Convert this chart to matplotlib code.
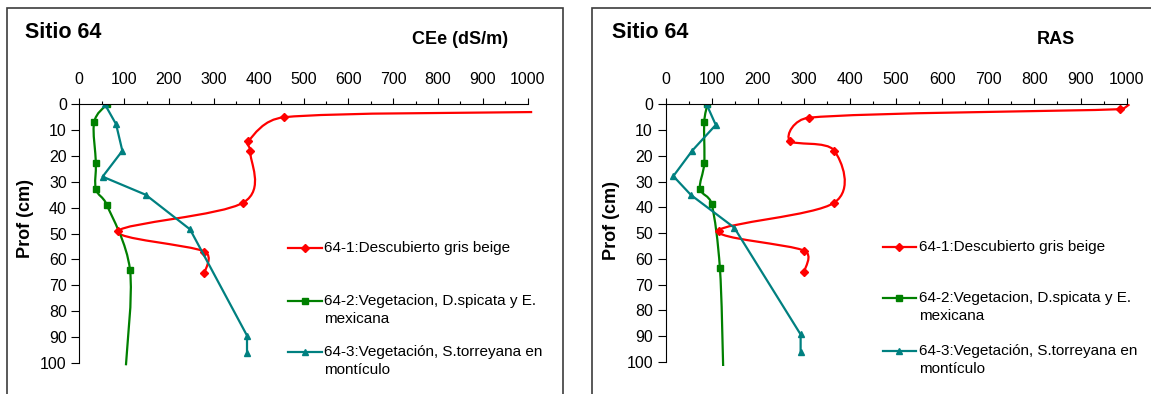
import numpy as np
import matplotlib
matplotlib.use("Agg")
import matplotlib.pyplot as plt
from matplotlib.path import Path
from matplotlib.patches import PathPatch, Rectangle
from matplotlib.lines import Line2D
from matplotlib.ticker import MultipleLocator

plt.rcParams['font.family'] = ['Liberation Sans', 'DejaVu Sans']

# Depth profiles, Sitio 64 (depth in cm)
depth_cee_1 = [3, 5, 14.2, 18, 38, 49, 57, 65.4]
cee_1 = [1010, 457, 377, 381, 366, 87, 279, 279]
depth_cee_2 = [0, 7, 22.6, 32.8, 38.8, 64, 101]
cee_2 = [61, 33, 37, 37, 61, 113, 104]
depth_cee_3 = [0, 7.7, 18, 28, 35, 48.4, 89.5, 96.4]
cee_3 = [57, 82, 96, 52, 148, 247, 374, 374]

depth_ras_1 = [0, 1.9, 5.2, 14.1, 18, 38.2, 49.1, 56.9, 65]
ras_1 = [1006, 985, 311, 269, 366, 366, 115, 301, 301]
depth_ras_2 = [0, 6.9, 22.9, 32.8, 38.7, 63.7, 101.7]
ras_2 = [91, 84, 84, 75, 100, 118, 125]
depth_ras_3 = [0, 8, 18, 27.9, 35.2, 47.9, 89.4, 96.4]
ras_3 = [89, 109, 58, 17, 55, 149, 293, 293]

labels = ['64-1:Descubierto gris beige',
          '64-2:Vegetacion, D.spicata y E.\nmexicana',
          '64-3:Vegetación, S.torreyana en\nmontículo']
x_ticks = list(range(0, 1001, 100))
y_ticks = list(range(0, 101, 10))

RED, GREEN, TEAL = '#FF0000', '#008000', '#008080'

W, H = 1151, 394
fig = plt.figure(figsize=(W / 100, H / 100), dpi=100)


def fx(px):
    return px / W


def fy(py):
    return 1 - py / H


def smooth_path(ax, xs, ys, k=0.5):
    """Bezier curve through the points, like a spreadsheet 'smoothed line'."""
    pts = ax.transData.transform(np.column_stack([xs, ys]))
    n = len(pts)
    verts = [pts[0]]
    codes = [Path.MOVETO]
    for i in range(n - 1):
        p0 = pts[i - 1] if i > 0 else pts[i]
        p1, p2 = pts[i], pts[i + 1]
        p3 = pts[i + 2] if i + 2 < n else pts[i + 1]
        seg = np.hypot(*(p2 - p1))
        a1 = (p2 - p0) / 6.0
        a2 = (p3 - p1) / 6.0
        # keep control arms from overshooting short segments
        for a in (a1, a2):
            la = np.hypot(*a)
            if la > k * seg and la > 0:
                a *= k * seg / la
        verts += [p1 + a1, p2 - a2, p2]
        codes += [Path.CURVE4] * 3
    verts = ax.transData.inverted().transform(np.array(verts))
    return Path(verts, codes)


def setup_axes(rect):
    ax = fig.add_axes(rect)
    ax.patch.set_alpha(0)
    ax.set_xlim(0, 1012)
    ax.set_ylim(101.5, 0)
    for s in ('right', 'bottom'):
        ax.spines[s].set_visible(False)
    ax.spines['top'].set_bounds(0, 1000)
    ax.spines['left'].set_bounds(0, 100)
    for s in ('top', 'left'):
        ax.spines[s].set_linewidth(0.8)
    ax.xaxis.tick_top()
    ax.set_xticks(x_ticks)
    ax.xaxis.set_minor_locator(MultipleLocator(50))
    ax.set_yticks(y_ticks)
    ax.tick_params(axis='x', which='major', direction='out', length=4.2, width=0.8,
                   pad=8, labelsize=11.5)
    ax.tick_params(axis='x', which='minor', direction='out', length=2.4, width=0.8)
    ax.tick_params(axis='y', which='major', direction='out', length=5.5, width=0.8,
                   pad=3.5, labelsize=11.5)
    return ax


def draw_series(ax, xs, ys, color, marker, ms, smooth, skip):
    idx = [i for i in range(len(xs)) if i not in skip]
    if smooth:
        ax.add_patch(PathPatch(smooth_path(ax, xs, ys), fc='none', ec=color, lw=1.6))
    else:
        ax.plot(xs, ys, color=color, lw=1.6)
    ax.plot(np.array(xs)[idx], np.array(ys)[idx], ls='none', marker=marker,
            ms=ms, color=color, mec=color)


def draw_legend(hx0, hx1, tx, rows):
    styles = [(RED, 'D', 4.5), (GREEN, 's', 4.5), (TEAL, '^', 5)]
    for (color, marker, ms), label, y in zip(styles, labels, rows):
        fig.add_artist(Line2D([fx(hx0), fx(hx1)], [fy(y), fy(y)], color=color, lw=1.6,
                              transform=fig.transFigure))
        fig.add_artist(Line2D([fx((hx0 + hx1) / 2)], [fy(y)], color=color, marker=marker,
                              ms=ms, mec=color, transform=fig.transFigure))
        for j, line in enumerate(label.split('\n')):
            fig.text(fx(tx), fy(y + 18 * j), line, fontsize=11, va='center', ha='left')


def panel_frame(x0, x1):
    fig.add_artist(Rectangle((fx(x0), -0.05), fx(x1) - fx(x0), fy(8) + 0.05,
                             transform=fig.transFigure, fill=False,
                             ec='#3c3c3c', lw=1.2))


# left panel: CEe
panel_frame(7, 562.5)
ax1 = setup_axes([fx(79.3), fy(366.6), fx(533.1) - fx(79.3), (366.6 - 104.3) / H])
draw_series(ax1, cee_1, depth_cee_1, RED, 'D', 4.5, True, {0})
draw_series(ax1, cee_2, depth_cee_2, GREEN, 's', 4.5, True, {len(cee_2) - 1})
draw_series(ax1, cee_3, depth_cee_3, TEAL, '^', 5, False, set())
fig.text(fx(25), fy(33), 'Sitio 64', fontsize=15.5, weight='bold', va='center')
fig.text(fx(460), fy(40), 'CEe (dS/m)', fontsize=13, weight='bold', va='center', ha='center')
fig.text(fx(25), fy(219), 'Prof (cm)', fontsize=13, weight='bold', rotation=90,
         va='center', ha='center')
draw_legend(288.3, 321.7, 324.3, [248.3, 301.3, 351.7])

# right panel: RAS
panel_frame(591.7, 1160)
ax2 = setup_axes([fx(665.5), fy(365.6), fx(1132.2) - fx(665.5), (365.6 - 104.3) / H])
draw_series(ax2, ras_1, depth_ras_1, RED, 'D', 4.5, True, {0})
draw_series(ax2, ras_2, depth_ras_2, GREEN, 's', 4.5, True, {len(ras_2) - 1})
draw_series(ax2, ras_3, depth_ras_3, TEAL, '^', 5, False, set())
fig.text(fx(612), fy(33), 'Sitio 64', fontsize=15.5, weight='bold', va='center')
fig.text(fx(1056), fy(39), 'RAS', fontsize=13, weight='bold', va='center', ha='center')
fig.text(fx(611), fy(220), 'Prof (cm)', fontsize=13, weight='bold', rotation=90,
         va='center', ha='center')
draw_legend(882.7, 916, 919.3, [246.7, 298, 350.7])

fig.savefig('out.png', dpi=100)
